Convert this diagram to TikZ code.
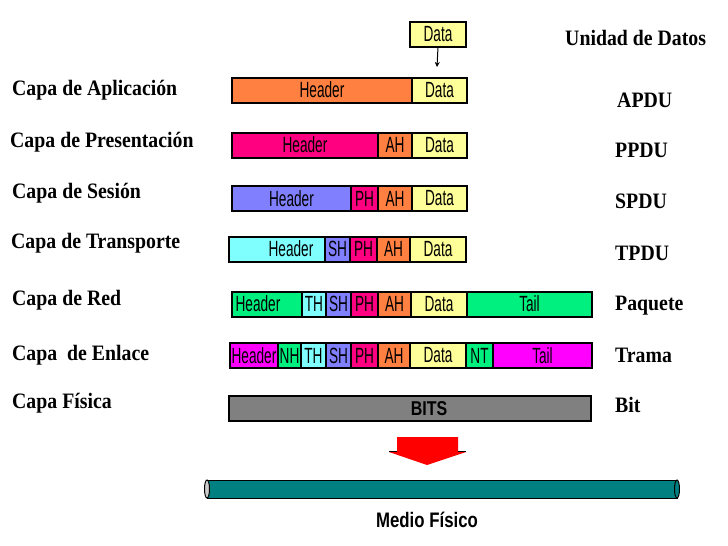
\documentclass[tikz,border=0pt]{standalone}
\usepackage{fontspec}
\setmainfont{Liberation Serif}[FakeStretch=0.9]
\newfontfamily\cellfont{Liberation Sans}[FakeStretch=0.62]
\newfontfamily\bitsfont{Liberation Sans}[FakeStretch=0.8]
\usetikzlibrary{positioning,arrows.meta}

\definecolor{apcol}{RGB}{255,128,64}
\definecolor{prcol}{RGB}{255,0,128}
\definecolor{secol}{RGB}{128,128,255}
\definecolor{trcol}{RGB}{128,255,255}
\definecolor{recol}{RGB}{0,240,128}
\definecolor{encol}{RGB}{255,0,255}
\definecolor{datacol}{RGB}{255,255,153}
\definecolor{bitcol}{RGB}{128,128,128}
\definecolor{cablecol}{RGB}{0,128,128}

\begin{document}
\begin{tikzpicture}[x=1pt,y=-1pt,
    layer/.style={font=\bfseries\fontsize{22}{24}\selectfont,anchor=base west,inner sep=0pt},
    cell/.style={draw,line width=1.2pt,minimum height=25pt,inner sep=0pt,outer sep=0pt,
        font=\cellfont\fontsize{22}{24}\selectfont},
    barframe/.style={draw,line width=2pt}]
    \useasboundingbox (0,0) rectangle (728,546);

    % titles and layer names
    \node[layer] (tunit) at (565,45) {Unidad de Datos};
    \node[layer] (lap) at (12,95) {Capa de Aplicación};
    \node[layer] (lpr) at (10,147) {Capa de Presentación};
    \node[layer] (lse) at (12,198) {Capa de Sesión};
    \node[layer] (ltr) at (11,248) {Capa de Transporte};
    \node[layer] (lre) at (12,305) {Capa de Red};
    \node[layer] (len) at (12,360) {Capa\ \ de Enlace};
    \node[layer] (lfi) at (12,408) {Capa Física};

    \node[layer] (uap) at (617,107) {APDU};
    \node[layer] (upr) at (615,157) {PPDU};
    \node[layer] (use) at (615,208) {SPDU};
    \node[layer] (utr) at (615,260) {TPDU};
    \node[layer] (ure) at (615,310) {Paquete};
    \node[layer] (uen) at (615,362) {Trama};
    \node[layer] (ufi) at (615,412) {Bit};

    % data coming from above
    \node[cell,fill=datacol,minimum width=56pt,anchor=west] (d0) at (410,34.5) {Data};
    \draw[barframe] (d0.north west) rectangle (d0.south east);
    \coordinate (d0end) at (437,67);
    \draw[line width=1pt,-{Stealth[length=5pt,width=5pt]}] (d0.south) -- (d0end);

    % aplicacion
    \node[cell,fill=apcol,minimum width=180pt,anchor=west] (r1hd) at (232,90) {Header};
    \node[cell,fill=datacol,minimum width=55pt,right=0pt of r1hd] (r1da) {Data};
    \draw[barframe] (r1hd.north west) rectangle (r1da.south east);

    % presentacion
    \node[cell,fill=prcol,minimum width=146pt,anchor=west] (r2hd) at (232,145) {Header};
    \node[cell,fill=apcol,minimum width=34pt,right=0pt of r2hd] (r2ah) {AH};
    \node[cell,fill=datacol,minimum width=55pt,right=0pt of r2ah] (r2da) {Data};
    \draw[barframe] (r2hd.north west) rectangle (r2da.south east);

    % sesion
    \node[cell,fill=secol,minimum width=119pt,anchor=west] (r3hd) at (232,198.5) {Header};
    \node[cell,fill=prcol,minimum width=27pt,right=0pt of r3hd] (r3ph) {PH};
    \node[cell,fill=apcol,minimum width=34pt,right=0pt of r3ph] (r3ah) {AH};
    \node[cell,fill=datacol,minimum width=55pt,right=0pt of r3ah] (r3da) {Data};
    \draw[barframe] (r3hd.north west) rectangle (r3da.south east);

    % transporte
    \node[cell,fill=trcol,minimum width=96pt,anchor=west] (r4hd) at (229,249) {\hspace*{28pt}Header};
    \node[cell,fill=secol,minimum width=25pt,right=0pt of r4hd] (r4sh) {SH};
    \node[cell,fill=prcol,minimum width=27pt,right=0pt of r4sh] (r4ph) {PH};
    \node[cell,fill=apcol,minimum width=33pt,right=0pt of r4ph] (r4ah) {AH};
    \node[cell,fill=datacol,minimum width=56pt,right=0pt of r4ah] (r4da) {Data};
    \draw[barframe] (r4hd.north west) rectangle (r4da.south east);

    % red
    \node[cell,fill=recol,minimum width=70pt,anchor=west] (r5hd) at (232,304) {Header\hspace*{18pt}};
    \node[cell,fill=trcol,minimum width=24pt,right=0pt of r5hd] (r5th) {TH};
    \node[cell,fill=secol,minimum width=25pt,right=0pt of r5th] (r5sh) {SH};
    \node[cell,fill=prcol,minimum width=27pt,right=0pt of r5sh] (r5ph) {PH};
    \node[cell,fill=apcol,minimum width=33pt,right=0pt of r5ph] (r5ah) {AH};
    \node[cell,fill=datacol,minimum width=56pt,right=0pt of r5ah] (r5da) {Data};
    \node[cell,fill=recol,minimum width=125pt,right=0pt of r5da] (r5tl) {Tail};
    \draw[barframe] (r5hd.north west) rectangle (r5tl.south east);

    % enlace
    \node[cell,fill=encol,minimum width=48pt,anchor=west] (r6hd) at (230,355.5) {Header};
    \node[cell,fill=recol,minimum width=23pt,right=0pt of r6hd] (r6nh) {NH};
    \node[cell,fill=trcol,minimum width=25pt,right=0pt of r6nh] (r6th) {TH};
    \node[cell,fill=secol,minimum width=25pt,right=0pt of r6th] (r6sh) {SH};
    \node[cell,fill=prcol,minimum width=27pt,right=0pt of r6sh] (r6ph) {PH};
    \node[cell,fill=apcol,minimum width=32pt,right=0pt of r6ph] (r6ah) {AH};
    \node[cell,fill=datacol,minimum width=56pt,right=0pt of r6ah] (r6da) {Data};
    \node[cell,fill=recol,minimum width=27pt,right=0pt of r6da] (r6nt) {NT};
    \node[cell,fill=encol,minimum width=99pt,right=0pt of r6nt] (r6tl) {Tail};
    \draw[barframe] (r6hd.north west) rectangle (r6tl.south east);

    % fisica
    \node[cell,fill=bitcol,minimum width=362pt,anchor=west,font=\bitsfont\bfseries\fontsize{20}{22}\selectfont] (r7bt) at (229,408.5) {\hspace*{38pt}BITS};
    \draw[barframe] (r7bt.north west) rectangle (r7bt.south east);

    % arrow down to the medium
    \fill[red] (397,437) -- (458,437) -- (458,452) -- (466,452) -- (427,465)
        -- (389,452) -- (397,452) -- cycle;
    \draw[line width=1.5pt] (389,451.5) -- (397,451.5);
    \draw[line width=1.5pt] (458,451.5) -- (466,451.5);

    % cable
    \filldraw[fill=cablecol,draw=black,line width=1pt] (207,480) rectangle (677,498);
    \filldraw[fill=cablecol,draw=black,line width=1pt] (677,489) ellipse (2.5 and 9);
    \filldraw[fill=gray!40,draw=black,line width=1pt] (207,489) ellipse (2.5 and 9);
    \node[font=\bitsfont\bfseries\fontsize{21}{22}\selectfont,anchor=base,inner sep=0pt] (medio) at (427,527) {Medio Físico};
\end{tikzpicture}
\end{document}
